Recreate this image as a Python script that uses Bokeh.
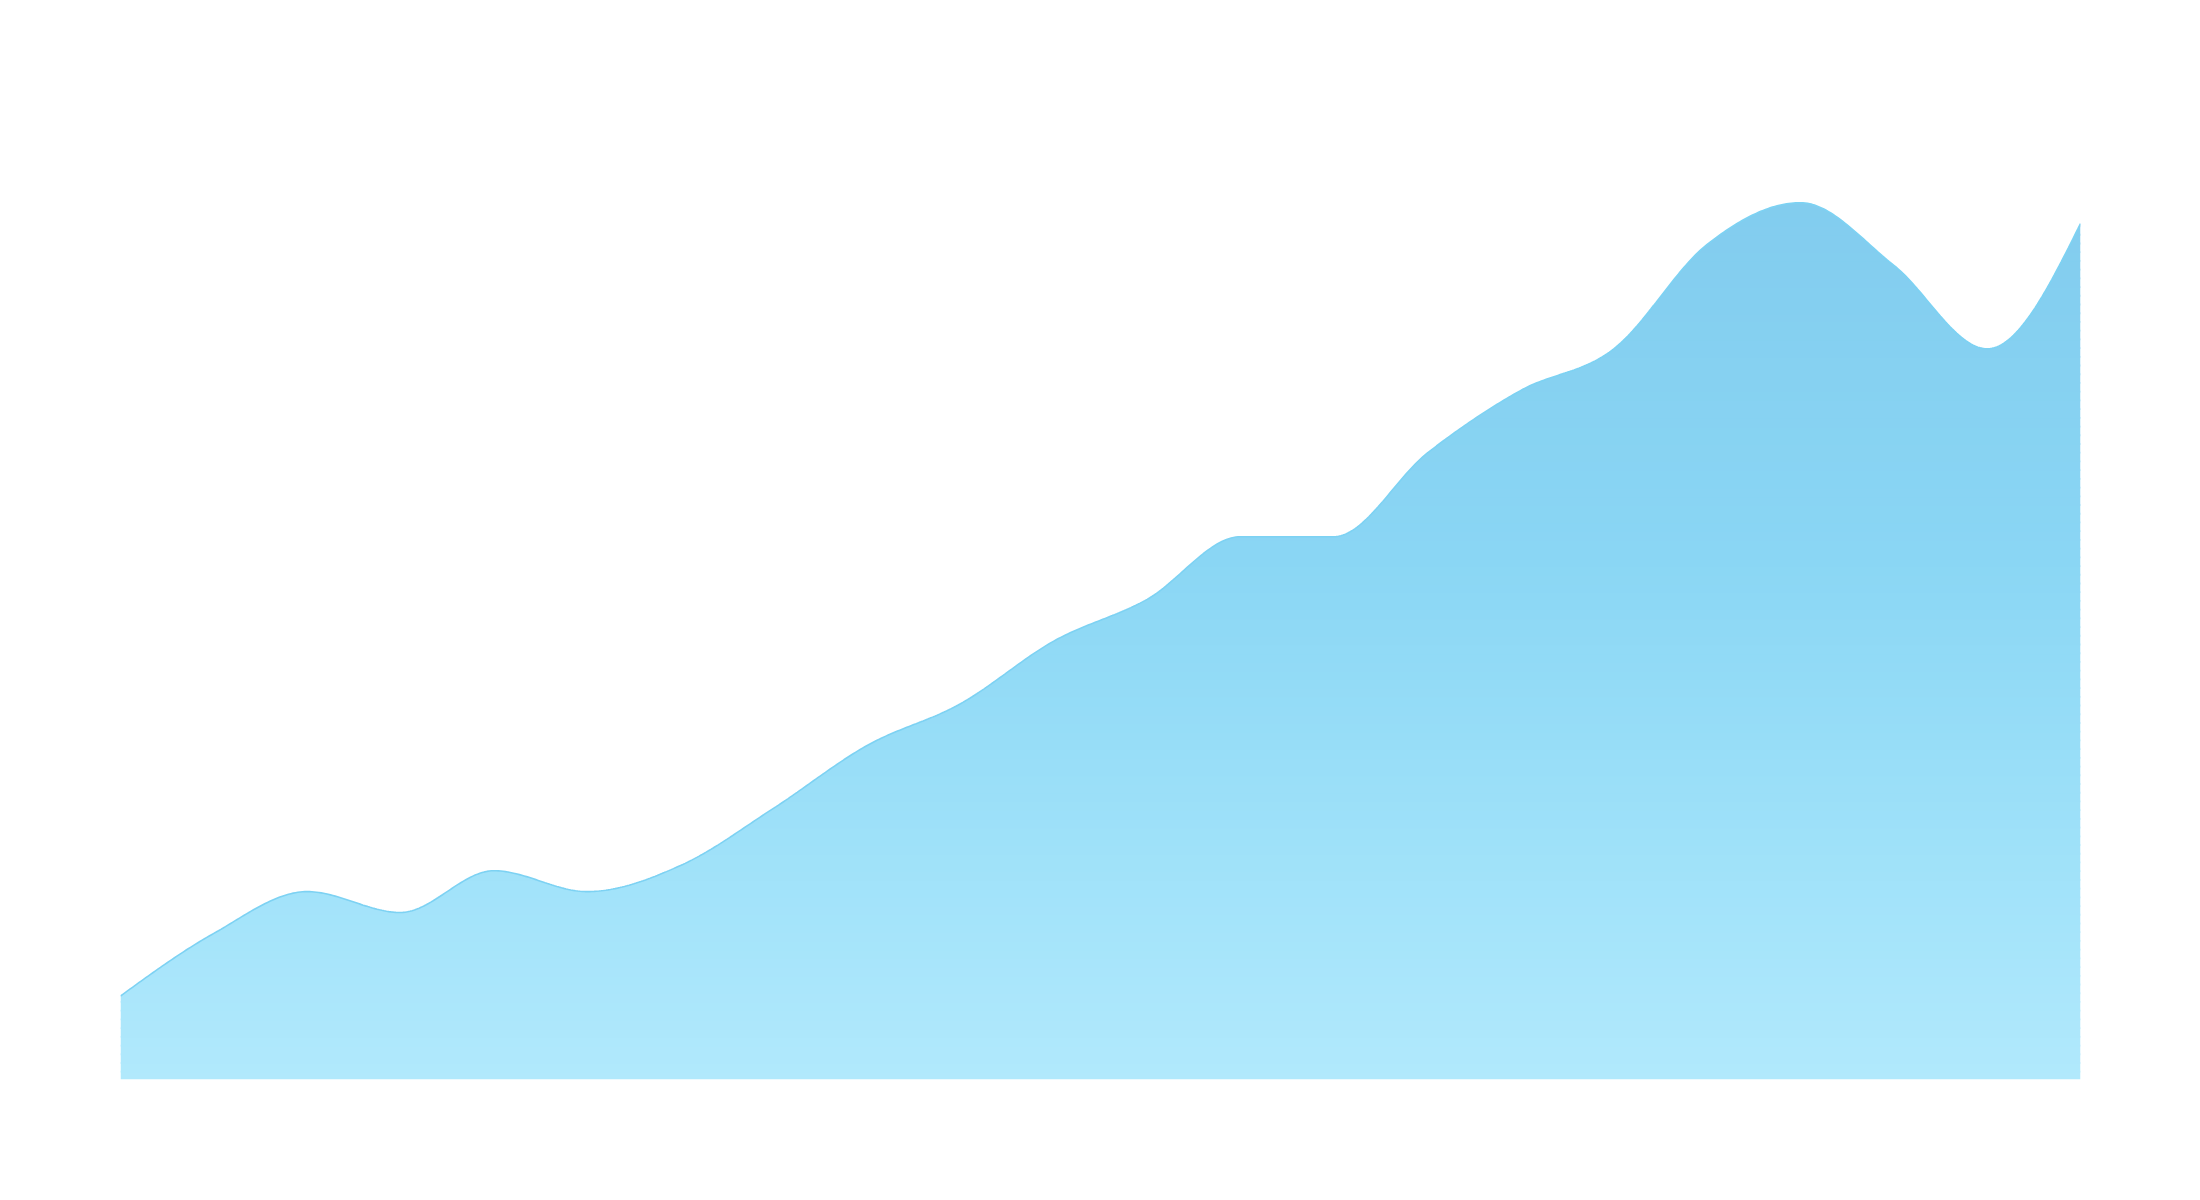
import numpy as np
from bokeh.plotting import figure
from bokeh.models import Range1d
from bokeh.embed import file_html
from bokeh.resources import INLINE

# ---- data ----
x_values = list(range(22))
y_values = [16, 28, 36, 32, 40, 36, 41, 52, 64, 72, 84, 92,
            104, 104, 120, 132, 140, 160, 168, 156, 140, 164]

# ---- style ----
line_color = "#7dd2f3"
# gradient stops: (data value, rgb)
grad_stops = [(0.0, (177, 233, 252)),
              (46.75, (158, 225, 249)),
              (100.4, (138, 214, 244)),
              (183.75, (128, 202, 237))]


def monotone_x(xs, ys, samples=40):
    xs = np.asarray(xs, float)
    ys = np.asarray(ys, float)
    n = len(xs)
    h = np.diff(xs)
    s = np.diff(ys) / h
    t = np.zeros(n)
    for i in range(1, n - 1):
        s0, s1 = s[i - 1], s[i]
        h0, h1 = h[i - 1], h[i]
        p = (s0 * h1 + s1 * h0) / (h0 + h1)
        t[i] = (np.sign(s0) + np.sign(s1)) * min(abs(s0), abs(s1), 0.5 * abs(p))
    t[0] = (3 * s[0] - t[1]) / 2
    t[-1] = (3 * s[-1] - t[-2]) / 2
    out_x, out_y = [], []
    for i in range(n - 1):
        u = np.linspace(0, 1, samples, endpoint=(i == n - 2))
        dx = h[i]
        h00 = 2 * u**3 - 3 * u**2 + 1
        h10 = u**3 - 2 * u**2 + u
        h01 = -2 * u**3 + 3 * u**2
        h11 = u**3 - u**2
        yy = h00 * ys[i] + h10 * dx * t[i] + h01 * ys[i + 1] + h11 * dx * t[i + 1]
        out_x.append(xs[i] + u * dx)
        out_y.append(yy)
    return np.concatenate(out_x), np.concatenate(out_y)


def grad_color(v):
    vs = [g[0] for g in grad_stops]
    rgb = [np.interp(v, vs, [g[1][k] for g in grad_stops]) for k in range(3)]
    return "#%02x%02x%02x" % tuple(int(round(c)) for c in rgb)


W, H = 2184, 1184
p = figure(width=W, height=H, output_backend="svg", toolbar_location=None,
           x_axis_type=None, y_axis_type=None,
           x_range=Range1d(0, 21), y_range=Range1d(0, 183.75),
           min_border_left=120, min_border_right=104,
           min_border_top=120, min_border_bottom=105)
p.outline_line_color = None
p.grid.visible = False
p.background_fill_color = "white"
p.border_fill_color = "white"

cx, cy = monotone_x(x_values, y_values)

nb = 110
edges = np.linspace(0, 183.75, nb + 1)
overlap = 0.35
for i in range(nb):
    lo, hi = edges[i], edges[i + 1]
    if lo > cy.max():
        break
    y1 = np.minimum(cy, max(lo - overlap, 0))
    y2 = np.minimum(cy, hi)
    p.varea(x=cx, y1=y1, y2=y2, fill_color=grad_color((lo + hi) / 2),
            fill_alpha=1.0)

p.line(cx, cy, line_color=line_color, line_width=1.6)

open("out.html", "w").write(file_html(p, INLINE))
